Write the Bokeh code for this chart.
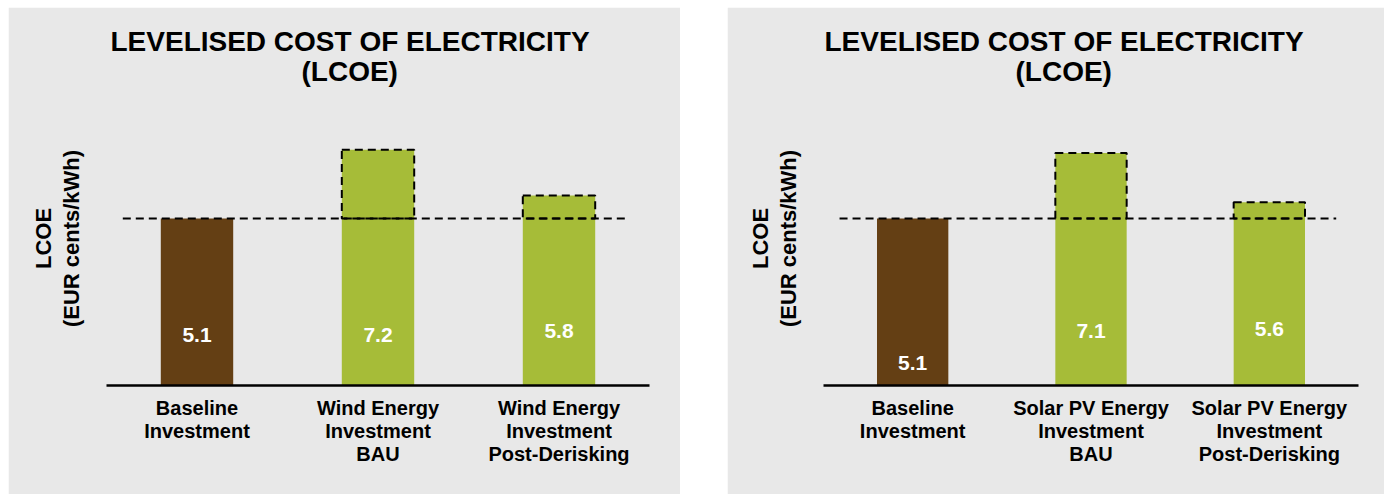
from bokeh.plotting import figure
from bokeh.models import FactorRange, Range1d, Title, FixedTicker, Spacer
from bokeh.layouts import row, column
from bokeh.embed import file_html
from bokeh.resources import INLINE
from bokeh.core.properties import value

# ---------------- data ----------------
title_line1 = "LEVELISED  COST OF ELECTRICITY"
title_line2 = "(LCOE)"
y_label = "LCOE\n(EUR cents/kWh)"

left_categories = ["Baseline\nInvestment",
                   "Wind Energy\nInvestment\nBAU",
                   "Wind Energy\nInvestment\nPost-Derisking"]
left_values = [5.1, 7.2, 5.8]

right_categories = ["Baseline\nInvestment",
                    "Solar PV Energy\nInvestment\nBAU",
                    "Solar PV Energy\nInvestment\nPost-Derisking"]
right_values = [5.1, 7.1, 5.6]

# ---------------- style / layout ----------------
FONT = "Liberation Sans"
BG = "#E8E8E8"
BROWN = "#643F14"
GREEN = "#A6BC38"
bar_colors = [BROWN, GREEN, GREEN]
HEIGHT = 487
Y_MAX = 8.98
BAR_W = 0.4
left_label_y = [1.53, 1.53, 1.65]
right_label_y = [0.70, 1.67, 1.73]


def make_panel(categories, values, label_y, width, mb_left, mb_right, off1, off2):
    p = figure(x_range=FactorRange(factors=categories, range_padding=0),
               y_range=Range1d(0, Y_MAX),
               width=width, height=HEIGHT,
               output_backend="svg", toolbar_location=None,
               min_border_left=mb_left, min_border_right=mb_right,
               min_border_top=84, min_border_bottom=109)
    p.background_fill_color = BG
    p.border_fill_color = BG
    p.outline_line_color = BG
    p.outline_line_width = 2
    p.grid.visible = False

    baseline = values[0]
    p.vbar(x=categories, top=values, width=BAR_W, color=bar_colors, line_color=None)
    p.segment(x0=[0.09], y0=[baseline], x1=[2.875], y1=[baseline],
              line_color="black", line_width=2, line_dash="8 5")
    p.vbar(x=categories[1:], bottom=[baseline] * (len(values) - 1), top=values[1:],
           width=BAR_W, fill_alpha=0, line_color="black", line_width=2,
           line_dash="8 5")
    p.text(x=categories, y=label_y, text=[f"{v:.1f}" for v in values],
           text_color="white", text_font=value(FONT), text_font_style="bold",
           text_font_size="21px", text_align="center", text_baseline="middle")

    # title lines (closest to frame added first)
    for txt, off, so in ((title_line2, off2, 9), (title_line1, off1, -15)):
        p.add_layout(Title(text=txt, align="left", offset=off, standoff=so,
                           text_font=FONT, text_font_style="bold",
                           text_font_size="28px", text_color="black"), "above")

    xa = p.xaxis[0]
    xa.axis_line_width = 2.5
    xa.axis_line_color = "black"
    xa.major_tick_line_color = None
    xa.minor_tick_line_color = None
    xa.major_tick_out = 0
    xa.major_label_standoff = 11
    xa.major_label_text_font = FONT
    xa.major_label_text_font_style = "bold"
    xa.major_label_text_font_size = "20px"
    xa.major_label_text_line_height = 1.05
    xa.major_label_text_color = "black"

    ya = p.yaxis[0]
    ya.ticker = FixedTicker(ticks=[])
    ya.axis_line_color = None
    ya.major_tick_line_color = None
    ya.minor_tick_line_color = None
    ya.major_tick_out = 0
    ya.major_label_text_font_size = "0px"
    ya.axis_label = y_label
    ya.axis_label_text_font = FONT
    ya.axis_label_text_font_style = "bold"
    ya.axis_label_text_font_size = "22px"
    ya.axis_label_text_line_height = 1.1
    ya.axis_label_text_color = "black"
    ya.axis_label_standoff = 23
    return p


p1 = make_panel(left_categories, left_values, left_label_y, 672, 98, 31, 4, 195)
p2 = make_panel(right_categories, right_values, right_label_y, 657, 96, 26, 1, 192)

layout = column(Spacer(height=7),
                row(Spacer(width=8), p1, Spacer(width=47), p2))
open("out.html", "w").write(file_html(layout, INLINE))
